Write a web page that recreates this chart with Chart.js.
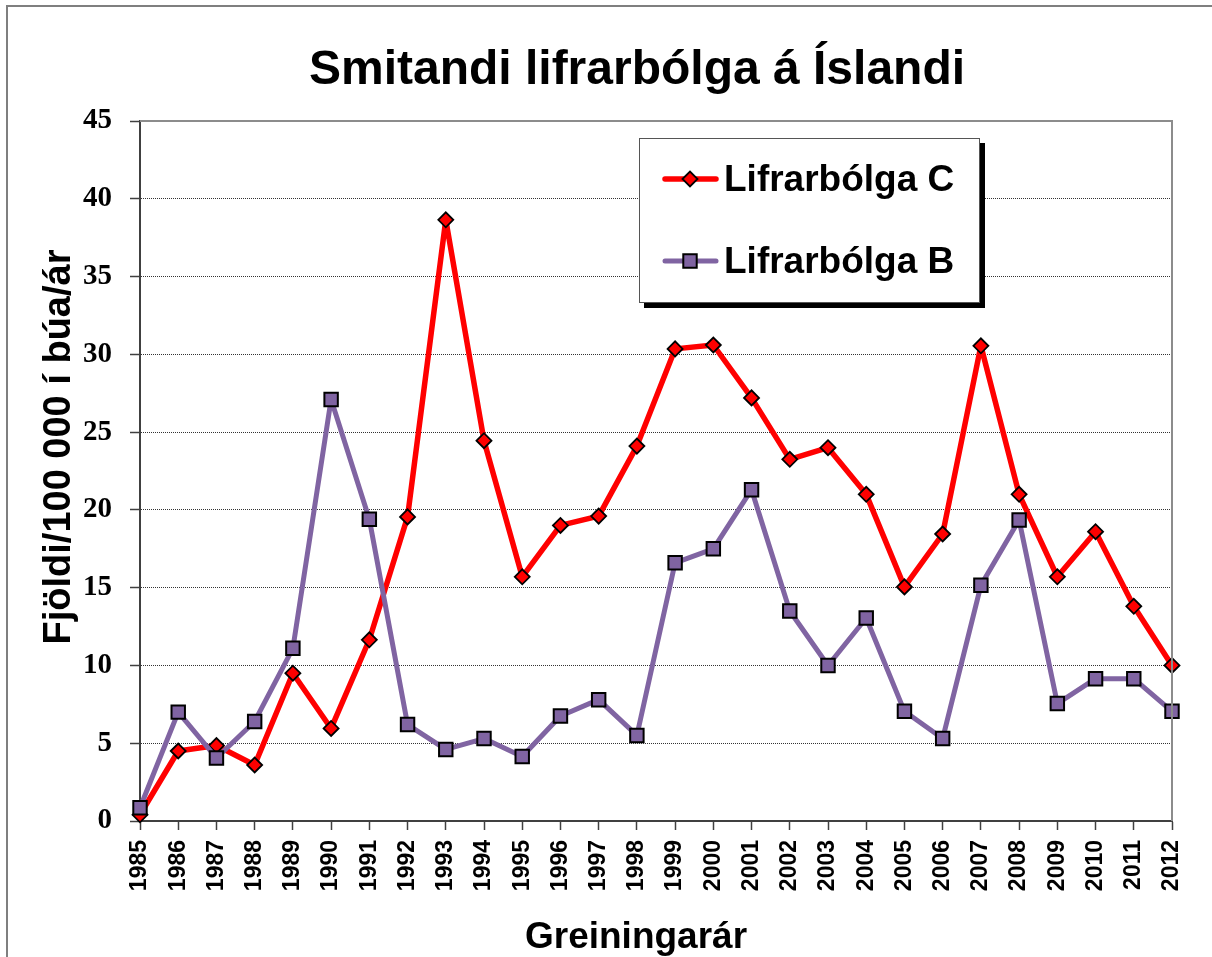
<!DOCTYPE html>
<html lang="is">

<head>
    <meta charset="UTF-8">
    <title>Smitandi lifrarbólga á Íslandi</title>
    <script src="https://cdn.jsdelivr.net/npm/chart.js"></script>
    <style>
        html, body {
            margin: 0;
            padding: 0;
            background-color: #ffffff;
        }

        #wrap {
            width: 1212px;
            height: 957px;
        }
    </style>
</head>

<body>
<div id="wrap">
    <canvas id="hepChart" width="1212" height="957"></canvas>
</div>

<script>
    // Greiningarár (x categories)
    const years = ['1985', '1986', '1987', '1988', '1989', '1990', '1991', '1992', '1993', '1994',
        '1995', '1996', '1997', '1998', '1999', '2000', '2001', '2002', '2003', '2004',
        '2005', '2006', '2007', '2008', '2009', '2010', '2011', '2012'];

    // Fjöldi/100 000 íbúa/ár
    const lifrarbolgaC = [0.4, 4.5, 4.85, 3.6, 9.5, 5.95, 11.65, 19.55, 38.65, 24.45,
        15.7, 19.0, 19.6, 24.1, 30.35, 30.6, 27.2, 23.25, 24.0, 21.0,
        15.05, 18.45, 30.55, 21.0, 15.7, 18.6, 13.8, 10.0];
    const lifrarbolgaB = [0.85, 7.0, 4.05, 6.4, 11.1, 27.1, 19.4, 6.2, 4.6, 5.3,
        4.15, 6.75, 7.8, 5.5, 16.6, 17.5, 21.3, 13.5, 10.0, 13.05,
        7.05, 5.3, 15.15, 19.35, 7.55, 9.15, 9.15, 7.05];

    // y axis
    const yMin = 0;
    const yMax = 45;
    const yStep = 5;

    const titleText = 'Smitandi lifrarbólga á Íslandi';
    const yTitleText = 'Fjöldi/100 000 í búa/ár';
    const xTitleText = 'Greiningarár';

    const SANS = "'Liberation Sans', Arial, sans-serif";
    const SERIF = "'Liberation Serif', 'Times New Roman', serif";

    // titles, legend box and frame are drawn by hand (legend sits inside the plot)
    const decorations = {
        id: 'decorations',
        afterDraw(chart) {
            const ctx = chart.ctx;
            const area = chart.chartArea;
            ctx.save();

            // grey top / right edge of plot area
            ctx.strokeStyle = '#8c8c8c';
            ctx.lineWidth = 2;
            ctx.beginPath();
            ctx.moveTo(area.left, area.top);
            ctx.lineTo(area.right, area.top);
            ctx.lineTo(area.right, area.bottom);
            ctx.stroke();

            // outer frame (only top and left are inside the picture)
            ctx.strokeStyle = '#7f7f7f';
            ctx.lineWidth = 2;
            ctx.beginPath();
            ctx.moveTo(7, 960);
            ctx.lineTo(7, 6);
            ctx.lineTo(1215, 6);
            ctx.stroke();

            // main title
            ctx.fillStyle = '#000000';
            ctx.font = 'bold 48px ' + SANS;
            ctx.textAlign = 'center';
            ctx.textBaseline = 'alphabetic';
            ctx.fillText(titleText, 637, 84);

            // x axis title
            ctx.font = 'bold 37px ' + SANS;
            ctx.fillText(xTitleText, 636, 948);

            // y axis title
            ctx.save();
            ctx.translate(70, 447);
            ctx.rotate(-Math.PI / 2);
            ctx.font = 'bold 38px ' + SANS;
            ctx.fillText(yTitleText, 0, 0);
            ctx.restore();

            // legend box with shadow
            const bx = 639, by = 138, bw = 340, bh = 164;
            ctx.fillStyle = '#000000';
            ctx.fillRect(bx + 5, by + 5, bw + 1, bh + 1);
            ctx.fillStyle = '#ffffff';
            ctx.fillRect(bx, by, bw, bh);
            ctx.strokeStyle = '#555555';
            ctx.lineWidth = 1;
            ctx.strokeRect(bx + 0.5, by + 0.5, bw, bh);

            const rows = [179, 261];
            chart.data.datasets.forEach((ds, i) => {
                const y = rows[i];
                ctx.strokeStyle = ds.borderColor;
                ctx.lineWidth = ds.borderWidth;
                ctx.lineCap = 'round';
                ctx.beginPath();
                ctx.moveTo(665, y);
                ctx.lineTo(716, y);
                ctx.stroke();

                ctx.fillStyle = ds.pointBackgroundColor;
                ctx.strokeStyle = ds.pointBorderColor;
                ctx.lineWidth = ds.pointBorderWidth;
                Chart.helpers.drawPoint(ctx, {
                    pointStyle: ds.pointStyle,
                    radius: ds.pointRadius,
                    rotation: 0,
                    borderWidth: ds.pointBorderWidth
                }, 690, y);

                ctx.fillStyle = '#000000';
                ctx.font = 'bold 37px ' + SANS;
                ctx.textAlign = 'left';
                ctx.textBaseline = 'alphabetic';
                ctx.fillText(ds.label, 724, y + 12);
            });

            ctx.restore();
        }
    };

    const ctx = document.getElementById('hepChart').getContext('2d');

    const config = {
        type: 'line',
        data: {
            labels: years,
            datasets: [{
                label: 'Lifrarbólga C',
                data: lifrarbolgaC,
                borderColor: '#ff0000',
                borderWidth: 5.5,
                borderJoinStyle: 'round',
                pointStyle: 'rectRot',
                pointRadius: 7.5,
                pointHoverRadius: 7.5,
                pointBackgroundColor: '#ff0000',
                pointBorderColor: '#000000',
                pointBorderWidth: 1.8,
                tension: 0,
                clip: false,
                order: 1
            }, {
                label: 'Lifrarbólga B',
                data: lifrarbolgaB,
                borderColor: '#8064a2',
                borderWidth: 5,
                borderJoinStyle: 'round',
                pointStyle: 'rect',
                pointRadius: 9.5,
                pointHoverRadius: 9.5,
                pointBackgroundColor: '#8064a2',
                pointBorderColor: '#000000',
                pointBorderWidth: 2,
                tension: 0,
                clip: false,
                order: 0
            }]
        },
        options: {
            responsive: false,
            animation: false,
            devicePixelRatio: 1,
            layout: {
                padding: {top: 121, right: 40, bottom: 0, left: 0}
            },
            plugins: {
                legend: {display: false},
                title: {display: false},
                tooltip: {enabled: false}
            },
            scales: {
                x: {
                    type: 'category',
                    offset: false,
                    afterFit(scale) {
                        scale.height = 136;
                    },
                    grid: {
                        drawOnChartArea: false,
                        drawTicks: true,
                        tickLength: 9,
                        tickColor: '#404040',
                        tickWidth: 1.5
                    },
                    border: {
                        display: true,
                        color: '#404040',
                        width: 2
                    },
                    ticks: {
                        autoSkip: false,
                        maxRotation: 90,
                        minRotation: 90,
                        padding: 10,
                        color: '#000000',
                        font: {family: SANS, size: 23, weight: 'bold'}
                    }
                },
                y: {
                    min: yMin,
                    max: yMax,
                    afterFit(scale) {
                        scale.width = 140;
                    },
                    grid: {
                        color: '#333333',
                        lineWidth: 1,
                        drawTicks: true,
                        tickLength: 10,
                        tickColor: '#404040',
                        tickWidth: 1.5,
                        tickBorderDash: []
                    },
                    border: {
                        display: true,
                        color: '#404040',
                        width: 2,
                        dash: [1, 1]
                    },
                    ticks: {
                        stepSize: yStep,
                        padding: 18,
                        color: '#000000',
                        font: {family: SERIF, size: 29, weight: 'bold'}
                    }
                }
            }
        },
        plugins: [decorations]
    };

    const hepChart = new Chart(ctx, config);
</script>
</body>

</html>
